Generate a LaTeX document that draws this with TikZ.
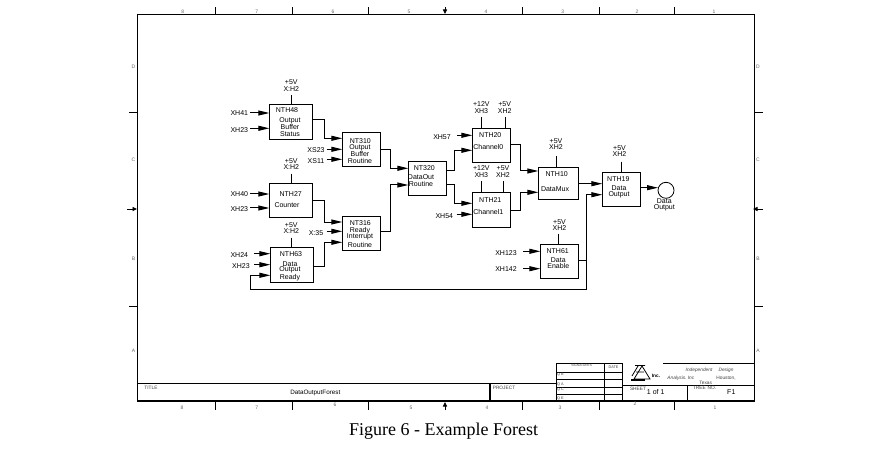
\documentclass[tikz,border=0pt]{standalone}
\usepackage{fontspec}
\setmainfont{Liberation Sans}
\newfontfamily\capfont{Liberation Serif}
\usetikzlibrary{arrows.meta}
\tikzset{
  x=1pt,y=-1pt,
  wire/.style={line width=1pt,black},
  frameline/.style={line width=1.1pt,black},
  sig/.style={wire,-{Triangle[length=11pt,width=5pt]}},
  tickarrow/.style={line width=0.9pt,-{Triangle[length=4.5pt,width=4pt]}},
  blockbox/.style={draw=black,line width=1pt,minimum width=#1,inner sep=0pt,outer sep=0pt},
  txt/.style={font=\fontsize{7}{7}\selectfont,inner sep=0pt,outer sep=0pt,text=black},
  tiny/.style={font=\fontsize{4.8}{5}\selectfont,inner sep=0pt,outer sep=0pt,text=black!75},
  zone/.style={font=\fontsize{5}{5}\selectfont,inner sep=0pt,outer sep=0pt,text=black!60},
}
\begin{document}
\begin{tikzpicture}
\useasboundingbox (0,0) rectangle (882,462);
% frame
\draw[frameline] (137.3,14.3) rectangle (754.3,401);
\foreach \tx in {215.3,292.3,368.3,522.3,599.3,674.3}{
  \draw[frameline] (\tx,7) -- (\tx,14.3);
  \draw[frameline] (\tx,401) -- (\tx,410);
}
\foreach \ty in {112.3,306.3}{
  \draw[frameline] (129,\ty) -- (137.3,\ty);
  \draw[frameline] (754.3,\ty) -- (763,\ty);
}
\draw[tickarrow] (445,7) -- (445,14);
\draw[tickarrow] (445,410) -- (445,402);
\draw[tickarrow] (127,209) -- (137,209);
\draw[tickarrow] (763,209) -- (753,209);
\foreach \zx/\zt in {182.7/8,256.7/7,333/6,409/5,486/4,562.7/3,637/2,714/1}
  \node[zone] (top\zt) at (\zx,12) {\zt};
\foreach \zx/\zy/\zt in {182/407.7/8,256.7/407.7/7,335/404.7/6,411/407.7/5,487/407.7/4,560/407.7/3,635/403.7/2,715/407.7/1}
  \node[zone] (bot\zt) at (\zx,\zy) {\zt};
\foreach \zy/\zt in {67/D,160/C,259/B,351/A}{
  \node[zone] (left\zt) at (133.5,\zy) {\zt};
  \node[zone] (right\zt) at (758,\zy) {\zt};
}
% title block
\draw[frameline] (137.3,383.3) -- (556.3,383.3);
\draw[frameline] (490,383.3) -- (490,401);
\draw[frameline] (556.3,363.3) -- (622.7,363.3) (663,363.3) -- (754.3,363.3);
\draw[frameline] (556.3,363.3) -- (556.3,401);
\draw[frameline] (604.3,363.3) -- (604.3,401);
\draw[frameline] (622.7,363.3) -- (622.7,401);
\foreach \ry in {372.3,379.7,387.3,394.3}
  \draw[wire] (556.3,\ry) -- (622.7,\ry);
\draw[frameline] (622.7,385.3) -- (754.3,385.3);
\draw[frameline] (687.3,385.3) -- (687.3,401);
\node[tiny] (ttl) at (151,388) {TITLE};
\node[txt,font=\fontsize{6.3}{7}\selectfont] (ttlname) at (315.3,392.7) {DataOutputForest};
\node[tiny] (prj) at (504,388) {PROJECT};
\node[tiny,font=\fontsize{3.2}{4}\selectfont] (sgn) at (581.7,365.2) {SIGNATURES};
\node[tiny,font=\fontsize{3.8}{4}\selectfont] (dte) at (613.5,367.3) {DATE};
\node[tiny,font=\fontsize{3.8}{4}\selectfont] (qb) at (560.5,374.5) {Q B};
\node[tiny,font=\fontsize{3.8}{4}\selectfont] (qa) at (560.5,384.3) {Q A};
\node[tiny,font=\fontsize{3.8}{4}\selectfont] (qc) at (560.5,390) {Q C};
\node[tiny,font=\fontsize{3.8}{4}\selectfont] (qe) at (560.5,398.5) {Q E};
\node[tiny,font=\itshape\fontsize{4.8}{5}\selectfont] (ind) at (699,370.7) {Independent};
\node[tiny,font=\itshape\fontsize{4.8}{5}\selectfont] (dsg) at (726,370.7) {Design};
\node[tiny,font=\itshape\fontsize{4.8}{5}\selectfont] (ana) at (677,378.3) {Analysis.};
\node[tiny,font=\itshape\fontsize{4.8}{5}\selectfont] (inc) at (691,378.3) {Inc};
\node[tiny,font=\fontsize{4.8}{5}\selectfont] (hou) at (726,378.3) {Houston,};
\node[tiny] (tex) at (705.7,383) {Texas};
\node[tiny] (sht) at (638,388.7) {SHEET};
\node[txt] (sheetno) at (655.7,392.2) {1 of 1};
\node[tiny] (tre) at (699.3,388.3) {TREE};
\node[tiny] (tno) at (712,388.3) {NO.};
\node[txt] (treeno) at (731.3,392.4) {F1};
% logo
\draw[line width=0.8pt] (634,379) -- (642,366) -- (650,379) -- cycle;
\draw[line width=0.8pt] (635,365.5) -- (645,365.5) (636,372) -- (644,372) (632,376) -- (638,366);
\fill[black] (631,379) rectangle (645,381.4);
\node[tiny,font=\bfseries\fontsize{4.8}{5}\selectfont,text=black] (logo) at (656,376.3) {Inc.};
% blocks
\node[blockbox=43pt,minimum height=35pt] (N48) at (290.8,121.8) {};
\node[blockbox=38.4pt,minimum height=34pt] (N310) at (361.5,149.3) {};
\node[blockbox=43pt,minimum height=34pt] (N27) at (290.8,200.3) {};
\node[blockbox=38.4pt,minimum height=34pt] (N316) at (361.5,233.3) {};
\node[blockbox=42.7pt,minimum height=35pt] (N63) at (291.7,264.8) {};
\node[blockbox=38.4pt,minimum height=34.3pt] (N320) at (427.5,178.2) {};
\node[blockbox=38pt,minimum height=34pt] (N20) at (491.3,145.3) {};
\node[blockbox=38pt,minimum height=35pt] (N21) at (491.3,209.8) {};
\node[blockbox=40.4pt,minimum height=32pt] (N10) at (558.5,183.3) {};
\node[blockbox=38pt,minimum height=34pt] (N19) at (621.3,189.3) {};
\node[blockbox=38.4pt,minimum height=34pt] (N61) at (559.5,261.3) {};
\node[draw=black,line width=0.8pt,circle,minimum size=16pt,inner sep=0pt,outer sep=0pt] (OUT) at (666,190.3) {};
% block texts
\node[txt] (t48) at (287,110.3) {NTH48};
\node[txt] (a48) at (290,120.4) {Output};
\node[txt] (b48) at (290,126.8) {Buffer};
\node[txt] (c48) at (290,134.3) {Status};
\node[txt] (t310) at (360.3,141) {NT310};
\node[txt] (a310) at (360,147.8) {Output};
\node[txt] (b310) at (360,154.4) {Buffer};
\node[txt] (c310) at (360,161) {Routine};
\node[txt] (t27) at (290.7,194.3) {NTH27};
\node[txt] (a27) at (287,205.3) {Counter};
\node[txt] (t316) at (360.3,223.3) {NT316};
\node[txt] (a316) at (360,230.4) {Ready};
\node[txt] (b316) at (360,236.9) {Interrupt};
\node[txt] (c316) at (360,244.7) {Routine};
\node[txt] (t63) at (291,253.7) {NTH63};
\node[txt] (a63) at (290,263.9) {Data};
\node[txt] (b63) at (290,270) {Output};
\node[txt] (c63) at (290,277.3) {Ready};
\node[txt] (t320) at (424.3,168.3) {NT320};
\node[txt] (a320) at (421,177.5) {DataOut};
\node[txt] (b320) at (421,183.8) {Routine};
\node[txt] (t20) at (490.3,134.7) {NTH20};
\node[txt] (a20) at (488.3,146.7) {Channel0};
\node[txt] (t21) at (490.3,200.3) {NTH21};
\node[txt] (a21) at (488.3,212.3) {Channel1};
\node[txt] (t10) at (556.7,174.3) {NTH10};
\node[txt] (a10) at (555,189.3) {DataMux};
\node[txt] (t19) at (618.3,179.3) {NTH19};
\node[txt] (a19) at (619,188.4) {Data};
\node[txt] (b19) at (619,194.6) {Output};
\node[txt] (t61) at (557.7,251.3) {NTH61};
\node[txt] (a61) at (558.3,260) {Data};
\node[txt] (b61) at (558.3,266.3) {Enable};
\node[txt] (d1) at (664.3,201) {Data};
\node[txt] (d2) at (664.3,207.4) {Output};
% input labels
\node[txt] (i1) at (239.3,113) {XH41};
\node[txt] (i2) at (239.3,130) {XH23};
\node[txt] (i3) at (316,150.3) {XS23};
\node[txt] (i4) at (316,161) {XS11};
\node[txt] (i5) at (239.3,194.3) {XH40};
\node[txt] (i6) at (239.3,209.3) {XH23};
\node[txt] (i7) at (316,233.3) {X:35};
\node[txt] (i8) at (239.3,255.3) {XH24};
\node[txt] (i9) at (241,266.3) {XH23};
\node[txt] (i10) at (442,137.3) {XH57};
\node[txt] (i11) at (444.3,216.3) {XH54};
\node[txt] (i12) at (506,253.3) {XH123};
\node[txt] (i13) at (506,269.3) {XH142};
% supply labels
\foreach \nn/\lx/\ya/\yb/\la/\lb in {
  p48/291.3/82.3/88.7/+5V/X:H2,
  p27/291.3/160.7/167.3/+5V/X:H2,
  p63/291.3/225.3/231.5/+5V/X:H2,
  pa20/481.3/104.3/110.7/+12V/XH3,
  pb20/504.7/104.3/110.7/+5V/XH2,
  pa21/481.3/168.3/174.7/+12V/XH3,
  pb21/503/168.3/174.7/+5V/XH2,
  p10/556/141/147.2/+5V/XH2,
  p19/619.5/148/154.2/+5V/XH2,
  p61/559.5/221.8/228/+5V/XH2}{
  \node[txt] (\nn a) at (\lx,\ya) {\la};
  \node[txt] (\nn b) at (\lx,\yb) {\lb};
}
% supply stems
\coordinate (s48) at (291.3,95);
\coordinate (s27) at (291.3,173.7);
\coordinate (s63) at (291.3,237.7);
\coordinate (sa20) at (481.3,117.3);
\coordinate (sb20) at (505.3,117.3);
\coordinate (sa21) at (481.3,181.3);
\coordinate (sb21) at (503.3,181.3);
\coordinate (s10) at (556.3,156);
\coordinate (s19) at (621.3,161.7);
\coordinate (s61) at (558.3,234);
\draw[wire] (s48) -- (s48 |- N48.north);
\draw[wire] (s27) -- (s27 |- N27.north);
\draw[wire] (s63) -- (s63 |- N63.north);
\draw[wire] (sa20) -- (sa20 |- N20.north);
\draw[wire] (sb20) -- (sb20 |- N20.north);
\draw[wire] (sa21) -- (sa21 |- N21.north);
\draw[wire] (sb21) -- (sb21 |- N21.north);
\draw[wire] (s10) -- (s10 |- N10.north);
\draw[wire] (s19) -- (s19 |- N19.north);
\draw[wire] (s61) -- (s61 |- N61.north);
% input arrows
\coordinate (f1) at (250,113);
\coordinate (f2) at (250,128.3);
\coordinate (f3) at (326.7,149.3);
\coordinate (f4) at (326.7,159.3);
\coordinate (f5) at (250,194);
\coordinate (f6) at (250,208);
\coordinate (f7) at (326.7,231.3);
\coordinate (f8) at (254,253.7);
\coordinate (f9) at (254,264.7);
\coordinate (f10) at (457.3,135.3);
\coordinate (f11) at (456.7,214.3);
\coordinate (f12) at (523.3,251.3);
\coordinate (f13) at (523,268.7);
\draw[sig] (f1) -- (f1 -| N48.west);
\draw[sig] (f2) -- (f2 -| N48.west);
\draw[sig] (f3) -- (f3 -| N310.west);
\draw[sig] (f4) -- (f4 -| N310.west);
\draw[sig] (f5) -- (f5 -| N27.west);
\draw[sig] (f6) -- (f6 -| N27.west);
\draw[sig] (f7) -- (f7 -| N316.west);
\draw[sig] (f8) -- (f8 -| N63.west);
\draw[sig] (f9) -- (f9 -| N63.west);
\draw[sig] (f10) -- (f10 -| N20.west);
\draw[sig] (f11) -- (f11 -| N21.west);
\draw[sig] (f12) -- (f12 -| N61.west);
\draw[sig] (f13) -- (f13 -| N61.west);
% routed connectors
\draw[sig] (N48.east |- 0,119.3) -- (324.7,119.3) -- (324.7,138.3) -- (N310.west |- 0,138.3);
\draw[sig] (N27.east |- 0,200.3) -- (324.7,200.3) -- (324.7,222) -- (N316.west |- 0,222);
\draw[sig] (N63.east |- 0,266.7) -- (324.7,266.7) -- (324.7,242.3) -- (N316.west |- 0,242.3);
\draw[sig] (N310.east |- 0,150) -- (390.3,150) -- (390.3,168.3) -- (N320.west |- 0,168.3);
\draw[sig] (N316.east |- 0,231.3) -- (390.3,231.3) -- (390.3,185) -- (N320.west |- 0,185);
\draw[sig] (N320.east |- 0,170.3) -- (454.3,170.3) -- (454.3,150.3) -- (N20.west |- 0,150.3);
\draw[sig] (N320.east |- 0,185) -- (454.3,185) -- (454.3,203.3) -- (N21.west |- 0,203.3);
\draw[sig] (N20.east |- 0,145) -- (520.7,145) -- (520.7,171) -- (N10.west |- 0,171);
\draw[sig] (N21.east |- 0,211) -- (520.7,211) -- (520.7,192.3) -- (N10.west |- 0,192.3);
\draw[sig] (N10.east |- 0,183.7) -- (N19.west |- 0,183.7);
\draw[sig] (N19.east |- 0,187.7) -- (OUT.west |- 0,187.7);
\draw[sig] (N63.west |- 0,289.3) ++(-20,0) -- (586.3,289.3) -- (586.3,194.7) -- (N19.west |- 0,194.7);
\draw[wire] (N61.east |- 0,260.3) -- (586.3,260.3);
\draw[sig] (250.3,289.3) -- (250.3,275.3) -- (N63.west |- 0,275.3);
% caption
\node[inner sep=0pt,font=\capfont\fontsize{18}{20}\selectfont] (cap) at (443.5,431) {Figure 6 - Example Forest};
\end{tikzpicture}
\end{document}
